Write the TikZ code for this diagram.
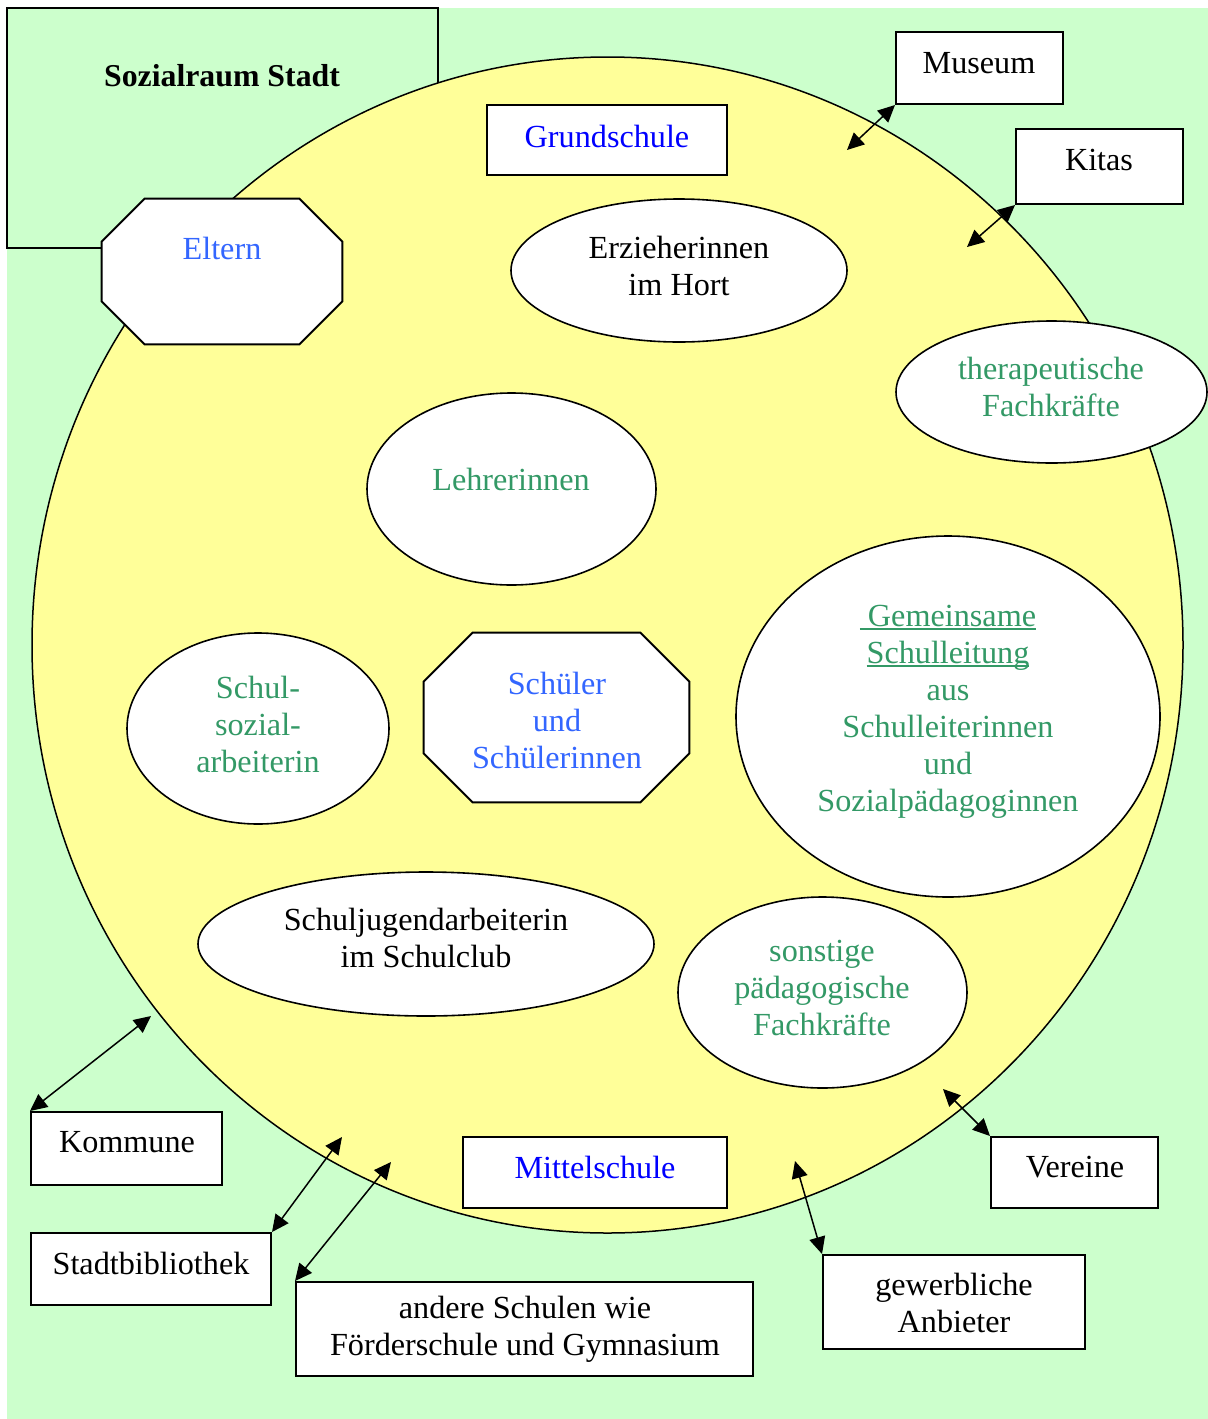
\documentclass[tikz,border=0pt]{standalone}
\usepackage{fontspec}
\setmainfont{Liberation Serif}
\usetikzlibrary{shapes.geometric,arrows.meta}
\definecolor{raumgruen}{HTML}{CCFFCC}
\definecolor{schulgelb}{HTML}{FFFF99}
\definecolor{textgruen}{HTML}{339966}
\definecolor{textblau}{HTML}{3366FF}
\definecolor{reinblau}{HTML}{0000FF}
% underlined word: rule just below the baseline, as wide as the word
\newcommand{\unterstr}[1]{\setbox0\hbox{#1}\rlap{\rule[-1.6pt]{\wd0}{0.9pt}}\box0}
% octagon drawn around a named rectangular node, corners cut by #2
\newcommand{\achteckum}[2]{%
  \draw[line width=1pt, fill=white]
    ([xshift=#2]#1.north west) -- ([xshift=-#2]#1.north east)
    -- ([yshift=-#2]#1.north east) -- ([yshift=#2]#1.south east)
    -- ([xshift=-#2]#1.south east) -- ([xshift=#2]#1.south west)
    -- ([yshift=#2]#1.south west) -- ([yshift=-#2]#1.north west) -- cycle;}
\begin{document}
\begin{tikzpicture}[x=0.5pt,y=-0.5pt,
  txt/.style={font=\fontsize{16.1}{18.5}\selectfont, align=center, inner sep=0pt},
  kasten/.style={draw, line width=1pt, fill=white, inner sep=0pt, rectangle},
  oval/.style={ellipse, draw, line width=0.8pt, fill=white, inner sep=0pt},
  rahmen/.style={rectangle, inner sep=0pt},
  pfeil/.style={line width=0.75pt,
    {Triangle[length=8.5pt,width=8pt]}-{Triangle[length=8.5pt,width=8pt]}}]
\useasboundingbox (0,0) rectangle (1208,1419);
\fill[white] (0,0) rectangle (1208,1419);
% Sozialraum (background)
\fill[raumgruen] (7,8) rectangle (1208,1419);
\node[kasten, fill=raumgruen, minimum width=215.5pt, minimum height=120pt] (stadt) at (222.5,128) {};
\node[txt, font=\fontsize{15.9}{18.5}\selectfont\bfseries] (stadttxt) at (222,76) {Sozialraum Stadt};
% Schulraum
\node[ellipse, draw, line width=0.75pt, fill=schulgelb, inner sep=0pt,
      minimum width=575.5pt, minimum height=588pt] (schule) at (607.5,645) {};
% Akteure im Schulraum
\node[rahmen, minimum width=120pt, minimum height=72.5pt] (eltern) at (222,271.5) {};
\achteckum{eltern}{21.5pt}
\node[txt, text=textblau] (elterntxt) at (222,248) {Eltern};

\node[kasten, minimum width=120pt, minimum height=35pt] (grund) at (607,140) {};
\node[txt, text=reinblau] (grundtxt) at (607,136) {Grundschule};

\node[oval, minimum width=168pt, minimum height=71.5pt] (hort) at (679,270.5) {};
\node[txt] (horttxt) at (679,266) {Erzieherinnen\\im Hort};

\node[oval, minimum width=155.5pt, minimum height=71pt] (thera) at (1051.5,392) {};
\node[txt, text=textgruen] (theratxt) at (1051,387) {therapeutische\\Fachkräfte};

\node[oval, minimum width=144.5pt, minimum height=96pt] (lehrer) at (511.5,489) {};
\node[txt, text=textgruen] (lehrertxt) at (511,479) {Lehrerinnen};

\node[oval, minimum width=212pt, minimum height=180.5pt] (leitung) at (948,716.5) {};
\node[txt, text=textgruen] (leitungtxt) at (948,712) {\unterstr{\ Gemeinsame}\\\unterstr{Schulleitung}\\aus\\Schulleiterinnen\\und\\Sozialpädagoginnen};

\node[oval, minimum width=131pt, minimum height=95.5pt] (sozial) at (258,728.5) {};
\node[txt, text=textgruen] (sozialtxt) at (258,724) {Schul-\\sozial-\\arbeiterin};

\node[rahmen, minimum width=132.5pt, minimum height=84.5pt] (schueler) at (556.5,717.5) {};
\achteckum{schueler}{24.5pt}
\node[txt, text=textblau] (schuelertxt) at (557,720) {Schüler\\und\\Schülerinnen};

\node[oval, minimum width=228pt, minimum height=72pt] (club) at (426,944) {};
\node[txt] (clubtxt) at (426,938) {Schuljugendarbeiterin\\im Schulclub};

\node[oval, minimum width=144.5pt, minimum height=95.5pt] (sonst) at (822.5,992.5) {};
\node[txt, text=textgruen] (sonsttxt) at (822,988) {sonstige\\pädagogische\\Fachkräfte};

\node[kasten, minimum width=132pt, minimum height=35.5pt] (mittel) at (595,1172.5) {};
\node[txt, text=reinblau] (mitteltxt) at (595,1167) {Mittelschule};

% Partner im Sozialraum
\node[kasten, minimum width=83.5pt, minimum height=36pt] (museum) at (979.5,68) {};
\node[txt] (museumtxt) at (979,63) {Museum};
\node[kasten, minimum width=83.5pt, minimum height=37.5pt] (kitas) at (1099.5,166.5) {};
\node[txt] (kitastxt) at (1099,160) {Kitas};
\node[kasten, minimum width=95.5pt, minimum height=36.5pt] (kommune) at (126.5,1148.5) {};
\node[txt] (kommunetxt) at (127,1142) {Kommune};
\node[kasten, minimum width=120pt, minimum height=36pt] (biblio) at (151,1269) {};
\node[txt] (bibliotxt) at (151,1263) {Stadtbibliothek};
\node[kasten, minimum width=228.5pt, minimum height=47pt] (andere) at (524.5,1329) {};
\node[txt] (anderetxt) at (525,1329) {andere Schulen wie\\Förderschule und Gymnasium};
\node[kasten, minimum width=83.5pt, minimum height=35.5pt] (vereine) at (1074.5,1172.5) {};
\node[txt] (vereinetxt) at (1075,1167) {Vereine};
\node[kasten, minimum width=131pt, minimum height=47pt] (gewerbe) at (954,1302) {};
\node[txt] (gewerbetxt) at (954,1303) {gewerbliche\\Anbieter};

% Verbindungen in den Schulraum
\coordinate (museumin) at (847,150);
\coordinate (kitasin) at (967,247);
\coordinate (kommunein) at (151,1016);
\coordinate (biblioin) at (342,1137);
\coordinate (anderein) at (391,1162);
\coordinate (vereinein) at (943,1089);
\coordinate (gewerbein) at (795,1161);
\draw[pfeil] (museum.south west) -- (museumin);
\draw[pfeil] (kitas.south west) -- (kitasin);
\draw[pfeil] (kommune.north west) -- (kommunein);
\draw[pfeil] (biblio.north east) -- (biblioin);
\draw[pfeil] (andere.north west) -- (anderein);
\draw[pfeil] (vereine.north west) -- (vereinein);
\draw[pfeil] (gewerbe.north west) -- (gewerbein);
\end{tikzpicture}
\end{document}
